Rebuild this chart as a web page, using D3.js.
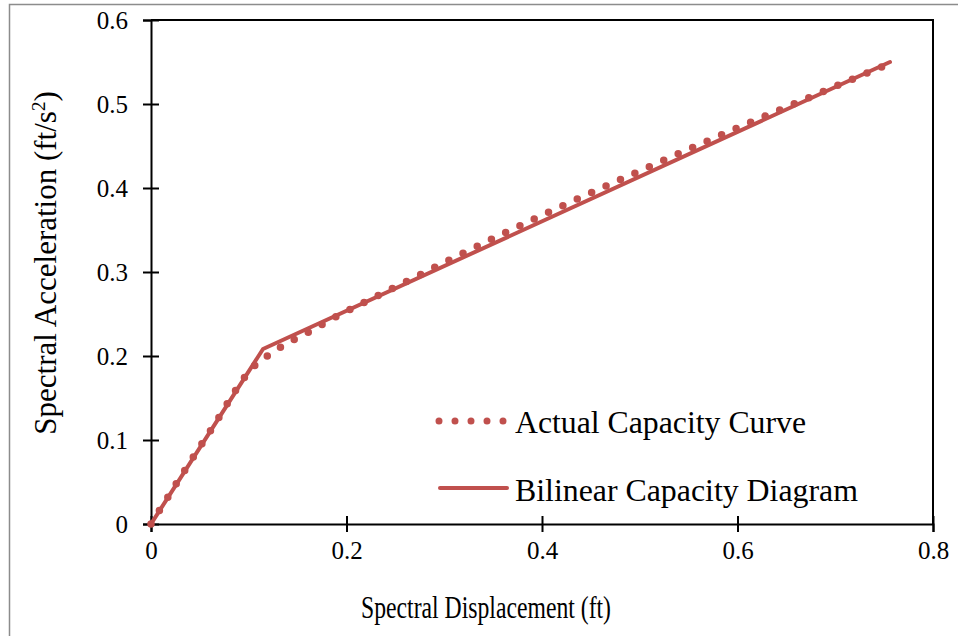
<!DOCTYPE html>
<html>
<head>
<meta charset="utf-8">
<script src="https://cdn.jsdelivr.net/npm/d3@7"></script>
<style>
  body { margin: 0; background: #fff; }
  svg { display: block; }
  text { font-family: "Times New Roman", "Liberation Serif", serif; fill: #000; }
</style>
</head>
<body>
<script>
// capacity spectrum: actual curve vs bilinear idealisation

var actualSd = [0, 0.0611, 0.1074, 0.1207, 0.1343, 0.1634, 0.1906, 0.2213, 0.265, 0.3093, 0.3532, 0.3977, 0.4423, 0.487, 0.532, 0.577, 0.622, 0.6673, 0.7123, 0.7485];
var actualSa = [0, 0.1115, 0.1901, 0.2015, 0.2119, 0.2298, 0.2476, 0.2655, 0.2908, 0.3167, 0.3417, 0.3663, 0.3901, 0.4135, 0.4369, 0.4599, 0.4825, 0.5048, 0.527, 0.5446];
var bilinearSd = [0, 0.1146, 0.756];
var bilinearSa = [0, 0.2083, 0.55];

var xTicks = [0, 0.2, 0.4, 0.6, 0.8];
var yTicks = [0, 0.1, 0.2, 0.3, 0.4, 0.5, 0.6];
var seriesNames = ["Actual Capacity Curve", "Bilinear Capacity Diagram"];

var red = "#c0504d";
var W = 958, H = 636;
var pLeft = 151, pRight = 933, pTop = 20, pBottom = 524;

var svg = d3.select("body").append("svg").attr("width", W).attr("height", H);

// outer frame
svg.append("rect")
      .attr("x", 9.5).attr("y", 4.5)
      .attr("width", 1000).attr("height", 700)
      .attr("fill", "none")
      .attr("stroke", "#8c8c8c")
      .attr("stroke-width", 1.5);

var x = d3.scaleLinear().domain([0, 0.8]).range([pLeft, pRight]);
var y = d3.scaleLinear().domain([0, 0.6]).range([pBottom, pTop]);

// plot box top / right
svg.append("path")
      .attr("d", "M" + pLeft + "," + pTop + "H" + pRight + "V" + pBottom)
      .attr("fill", "none")
      .attr("stroke", "#000")
      .attr("stroke-width", 2);

var xAxis = svg.append("g")
      .attr("transform", "translate(0," + pBottom + ")")
      .call(d3.axisBottom(x).tickValues(xTicks).tickSize(8).tickPadding(9).tickFormat(d3.format("")));
xAxis.selectAll(".tick line").attr("y1", -8);

var yAxis = svg.append("g")
      .attr("transform", "translate(" + pLeft + ",0)")
      .call(d3.axisLeft(y).tickValues(yTicks).tickSize(8).tickPadding(15).tickFormat(d3.format("")));
yAxis.selectAll(".tick line").attr("x1", 8);

svg.selectAll(".domain").attr("stroke", "#000").attr("stroke-width", 2);
svg.selectAll(".tick line").attr("stroke", "#000").attr("stroke-width", 2);
svg.selectAll(".tick text")
      .attr("font-family", null)
      .style("font-size", "25px");

// series
var actual = actualSd.map(function (d, i) { return [d, actualSa[i]]; });
var bilinear = bilinearSd.map(function (d, i) { return [d, bilinearSa[i]]; });

var line = d3.line()
      .x(function (d) { return x(d[0]); })
      .y(function (d) { return y(d[1]); })
      .curve(d3.curveMonotoneX);

svg.append("path")
      .attr("d", d3.line().x(function (d) { return x(d[0]); }).y(function (d) { return y(d[1]); })(bilinear))
      .attr("fill", "none")
      .attr("stroke", red)
      .attr("stroke-width", 4)
      .attr("stroke-linecap", "round")
      .attr("stroke-linejoin", "round");

svg.append("path")
      .attr("d", line(actual))
      .attr("fill", "none")
      .attr("stroke", red)
      .attr("stroke-width", 7.5)
      .attr("stroke-linecap", "round")
      .attr("stroke-dasharray", "0 15.8");

// legend
var lg = svg.append("g");
lg.append("line")
      .attr("x1", 439).attr("x2", 505).attr("y1", 421).attr("y2", 421)
      .attr("stroke", red).attr("stroke-width", 7)
      .attr("stroke-linecap", "round").attr("stroke-dasharray", "0 16");
lg.append("line")
      .attr("x1", 440).attr("x2", 507).attr("y1", 488).attr("y2", 488)
      .attr("stroke", red).attr("stroke-width", 4).attr("stroke-linecap", "round");
lg.selectAll("text.leg")
      .data(seriesNames)
      .enter().append("text")
      .attr("class", "leg")
      .attr("x", 515)
      .attr("y", function (d, i) { return 433 + i * 68; })
      .attr("textLength", function (d, i) { return i == 0 ? 291 : 343; })
      .attr("lengthAdjust", "spacingAndGlyphs")
      .style("font-size", "31px")
      .text(function (d) { return d; });

// axis titles
svg.append("text")
      .attr("x", 486).attr("y", 618)
      .attr("text-anchor", "middle")
      .attr("textLength", 250)
      .attr("lengthAdjust", "spacingAndGlyphs")
      .style("font-size", "32px")
      .text("Spectral Displacement (ft)");

var yt = svg.append("text")
      .attr("transform", "translate(56,263) rotate(-90)")
      .attr("text-anchor", "middle")
      .style("font-size", "31px");
yt.append("tspan").text("Spectral Acceleration (ft/s");
yt.append("tspan").attr("dy", -11).style("font-size", "19px").text("2");
yt.append("tspan").attr("dy", 11).text(")");
</script>
</body>
</html>
